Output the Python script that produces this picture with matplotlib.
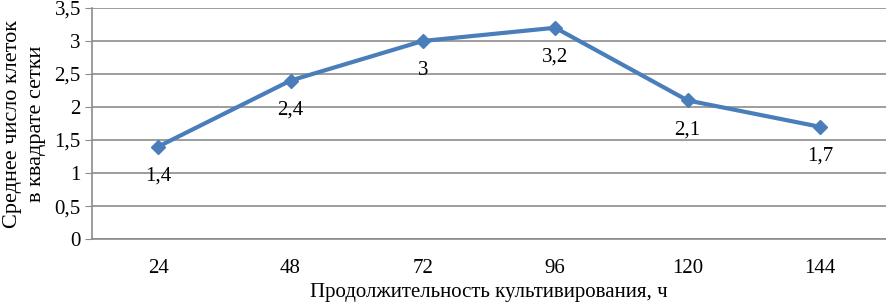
import matplotlib.pyplot as plt

plt.rcParams['font.family'] = ['Liberation Serif', 'DejaVu Serif']

hours = ['24', '48', '72', '96', '120', '144']
cells = [1.4, 2.4, 3.0, 3.2, 2.1, 1.7]
cell_labels = ['1,4', '2,4', '3', '3,2', '2,1', '1,7']
yticks = [0, 0.5, 1, 1.5, 2, 2.5, 3, 3.5]
ytick_labels = ['0', '0,5', '1', '1,5', '2', '2,5', '3', '3,5']

fig = plt.figure(figsize=(8.87, 3.05), dpi=100)
ax = fig.add_axes([0.1037, 0.216, 0.8953, 0.758])

x = list(range(len(hours)))
ax.plot(x, cells, color='#4a7ebb', lw=3, marker='D', ms=7, zorder=3)

for xi, yi, lab in zip(x, cells, cell_labels):
    ax.annotate(lab, (xi, yi), xytext=(0, -21), textcoords='offset points',
                ha='center', va='center', fontsize=15)

ax.set_xlim(-0.5, 5.5)
ax.set_ylim(0, 3.5)
ax.set_xticks(x)
ax.set_xticklabels(hours, fontsize=15)
ax.set_yticks(yticks)
ax.set_yticklabels(ytick_labels, fontsize=15)
ax.yaxis.grid(True, color='#8c8c8c', lw=1.2)
ax.set_axisbelow(True)

for s in ['top', 'right']:
    ax.spines[s].set_visible(False)
ax.spines['left'].set_color('#8c8c8c')
ax.spines['bottom'].set_color('#8c8c8c')
ax.spines['left'].set_linewidth(1.2)
ax.spines['bottom'].set_linewidth(1.2)
ax.tick_params(axis='x', length=0, pad=14)
ax.tick_params(axis='y', length=5, color='#8c8c8c', pad=3)

ax.set_xlabel('Продолжительность культивирования, ч', fontsize=15, labelpad=4)
ax.set_ylabel('Среднее число клеток\nв квадрате сетки', fontsize=16, labelpad=6,
              linespacing=1.4)

fig.savefig('out.png', dpi=100)
